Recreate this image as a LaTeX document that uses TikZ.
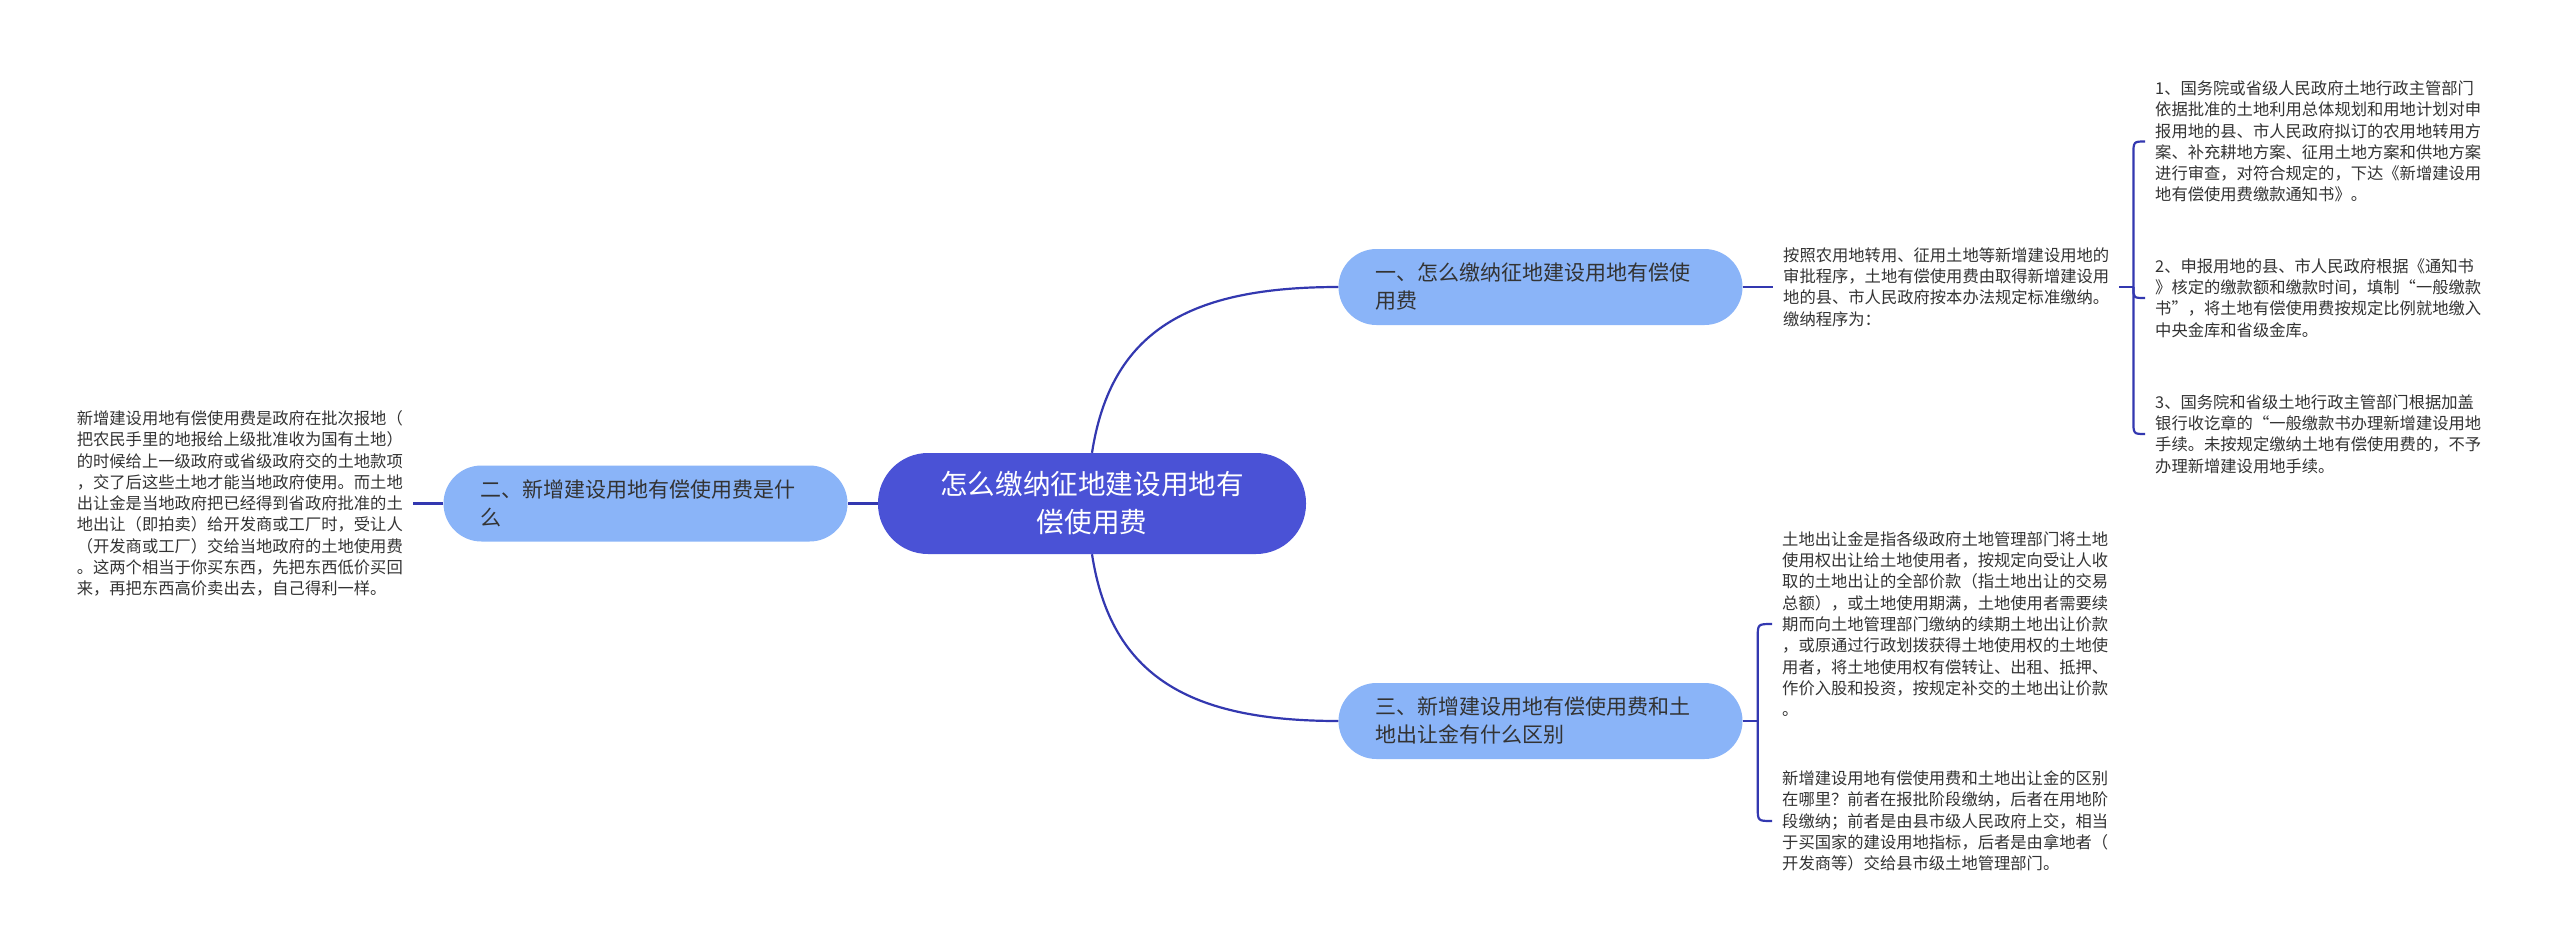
\documentclass[tikz,border=0pt]{standalone}
\usepackage{fontspec}
\setmainfont{Noto Sans CJK SC}
\definecolor{lineblue}{HTML}{3338B0}
\definecolor{mainblue}{HTML}{4A52D6}
\definecolor{branchblue}{HTML}{8AB4F8}
\definecolor{txtgray}{HTML}{333333}
\begin{document}
\begin{tikzpicture}[x=1pt,y=-1pt,
  mainnode/.style={fill=mainblue, text=white, rounded corners=50pt, minimum width=428pt, minimum height=101pt, align=center, font=\fontsize{27.6pt}{38pt}\selectfont, inner sep=0pt},
  branch/.style={fill=branchblue, text=txtgray, rounded corners=38pt, minimum width=404pt, minimum height=76pt, text width=330pt, align=left, font=\fontsize{21pt}{28pt}\selectfont, inner sep=0pt},
  leaf/.style={text=txtgray, align=left, font=\fontsize{16.3pt}{21.3pt}\selectfont, inner xsep=10pt, inner ysep=2pt},
  conn/.style={draw=lineblue, line width=2.2pt}]
\fill[white] (0,0) rectangle (2560,951);
\useasboundingbox (0,0) rectangle (2560,951);

\node[mainnode] (c) at (1092,503.5) {怎么缴纳征地建设用地有\\偿使用费};
\node[branch] (b1) at (1540.5,287) {一、怎么缴纳征地建设用地有偿使\\用费};
\node[branch] (b2) at (645.5,503.5) {二、新增建设用地有偿使用费是什\\么};
\node[branch] (b3) at (1540.5,721) {三、新增建设用地有偿使用费和土\\地出让金有什么区别};

\node[leaf, anchor=west] (t1) at (1773,287) {按照农用地转用、征用土地等新增建设用地的\\审批程序，土地有偿使用费由取得新增建设用\\地的县、市人民政府按本办法规定标准缴纳。\\缴纳程序为：};

\node[leaf, anchor=west] (i1) at (2145,141.5) {1、国务院或省级人民政府土地行政主管部门\\依据批准的土地利用总体规划和用地计划对申\\报用地的县、市人民政府拟订的农用地转用方\\案、补充耕地方案、征用土地方案和供地方案\\进行审查，对符合规定的，下达《新增建设用\\地有偿使用费缴款通知书》。};
\node[leaf, anchor=west] (i2) at (2145,298) {2、申报用地的县、市人民政府根据《通知书\\》核定的缴款额和缴款时间，填制“一般缴款\\书”，将土地有偿使用费按规定比例就地缴入\\中央金库和省级金库。};
\node[leaf, anchor=west] (i3) at (2145,434) {3、国务院和省级土地行政主管部门根据加盖\\银行收讫章的“一般缴款书办理新增建设用地\\手续。未按规定缴纳土地有偿使用费的，不予\\办理新增建设用地手续。};

\node[leaf, anchor=east] (t2) at (413,503.5) {新增建设用地有偿使用费是政府在批次报地（\\把农民手里的地报给上级批准收为国有土地）\\的时候给上一级政府或省级政府交的土地款项\\，交了后这些土地才能当地政府使用。而土地\\出让金是当地政府把已经得到省政府批准的土\\地出让（即拍卖）给开发商或工厂时，受让人\\（开发商或工厂）交给当地政府的土地使用费\\。这两个相当于你买东西，先把东西低价买回\\来，再把东西高价卖出去，自己得利一样。};

\node[leaf, anchor=west] (a3) at (1772,624) {土地出让金是指各级政府土地管理部门将土地\\使用权出让给土地使用者，按规定向受让人收\\取的土地出让的全部价款（指土地出让的交易\\总额），或土地使用期满，土地使用者需要续\\期而向土地管理部门缴纳的续期土地出让价款\\，或原通过行政划拨获得土地使用权的土地使\\用者，将土地使用权有偿转让、出租、抵押、\\作价入股和投资，按规定补交的土地出让价款\\。};
\node[leaf, anchor=west] (b3t) at (1772,821) {新增建设用地有偿使用费和土地出让金的区别\\在哪里？前者在报批阶段缴纳，后者在用地阶\\段缴纳；前者是由县市级人民政府上交，相当\\于买国家的建设用地指标，后者是由拿地者（\\开发商等）交给县市级土地管理部门。};

% main connectors
\draw[conn] (c.north) .. controls +(19,-123) and +(-148,0) .. (b1.west);
\draw[conn] (c.south) .. controls +(19,123) and +(-148,0) .. (b3.west);
\draw[conn] (c.west) -- (b2.east);
\draw[conn] (b2.west) -- (t2.east);
\draw[conn] (b1.east) -- (t1.west);

% bracket for branch 1
\coordinate (j1) at ([xshift=14pt]t1.east);
\draw[conn] (t1.east) -- (j1);
\draw[conn] (j1) -- ([yshift=-14pt]j1 |- i1.west) .. controls (j1 |- i1.west) .. (i1.west);
\draw[conn] (j1) .. controls (j1 |- i2.west) .. (i2.west);
\draw[conn] (j1) -- ([yshift=14pt]j1 |- i3.west) .. controls (j1 |- i3.west) .. (i3.west);

% bracket for branch 3
\coordinate (j3) at ([xshift=15pt]b3.east);
\draw[conn] (b3.east) -- (j3);
\draw[conn] (j3) -- ([yshift=-14pt]j3 |- a3.west) .. controls (j3 |- a3.west) .. (a3.west);
\draw[conn] (j3) -- ([yshift=14pt]j3 |- b3t.west) .. controls (j3 |- b3t.west) .. (b3t.west);
\end{tikzpicture}
\end{document}
